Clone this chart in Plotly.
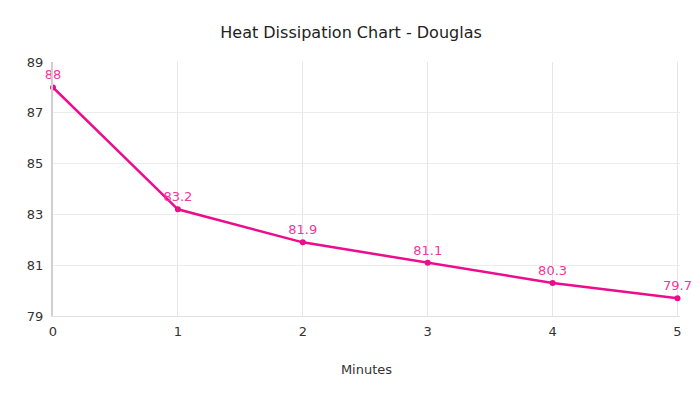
import plotly.graph_objects as go

minutes = [0, 1, 2, 3, 4, 5]
temps = [88, 83.2, 81.9, 81.1, 80.3, 79.7]
y_ticks = [79, 81, 83, 85, 87, 89]

color = "#EC0C8C"
label_color = "#F0389E"
font = "Tahoma, Verdana, DejaVu Sans, sans-serif"

fig = go.Figure(go.Scatter(
    x=minutes, y=temps, mode="lines+markers+text",
    text=[str(t) for t in temps], textposition="top center",
    textfont=dict(color=label_color, size=13, family=font),
    line=dict(color=color, width=2.5),
    marker=dict(color=color, size=6),
    cliponaxis=False,
))

fig.update_layout(
    width=692, height=386,
    paper_bgcolor="white", plot_bgcolor="white",
    font=dict(family=font, color="#333", size=13),
    title=dict(text="Heat Dissipation Chart - Douglas", x=0.4957, xanchor="center",
               y=0.938, yanchor="middle", font=dict(size=16, color="#222")),
    margin=dict(l=45, r=20, t=54, b=78),
    showlegend=False,
    xaxis=dict(range=[0, 5.02], tickvals=minutes, showgrid=True, gridcolor="#e6e6e6",
               zeroline=False, showline=True, linecolor="#e0e0e0", linewidth=1,
               title=dict(text="Minutes", font=dict(size=13, color="#333"), standoff=27),
               ticks="", ticklen=0, ticklabelstandoff=3, tickfont=dict(size=13)),
    yaxis=dict(range=[79, 89], tickvals=y_ticks, showgrid=True, gridcolor="#ececec",
               zeroline=False, showline=True, linecolor="#d0d0d0", linewidth=2,
               ticks="", ticklen=0, ticklabelstandoff=5, tickfont=dict(size=13)),
)

fig.write_html("out.html")
